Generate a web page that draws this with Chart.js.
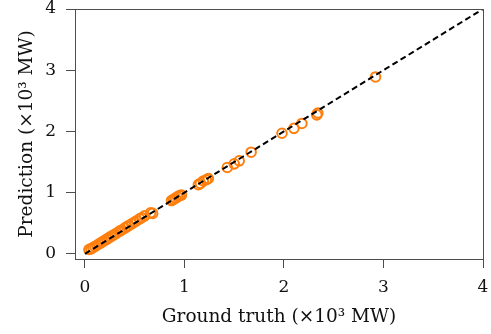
<!DOCTYPE html>
<html>
<head>
<meta charset="utf-8">
<script src="https://cdn.jsdelivr.net/npm/chart.js@4.4.1/dist/chart.umd.min.js"></script>
<style>
  html, body { margin: 0; padding: 0; background: #fff; }
  #wrap { width: 491px; height: 334px; }
</style>
</head>
<body>
<div id="wrap"><canvas id="chart" width="491" height="334"></canvas></div>
<script>
// values in 10^3 MW
var truth = [0.04, 0.06, 0.08, 0.10, 0.12, 0.14, 0.16, 0.18, 0.20, 0.22,
             0.24, 0.26, 0.28, 0.30, 0.32, 0.35, 0.37, 0.40, 0.42, 0.44,
             0.47, 0.50, 0.52, 0.55, 0.57, 0.60, 0.66, 0.68,
             0.87, 0.89, 0.91, 0.93, 0.95, 0.97,
             1.14, 1.16, 1.19, 1.22, 1.24,
             1.43, 1.50, 1.55, 1.67,
             1.98, 2.10, 2.18, 2.33, 2.34, 2.92];
var prediction = [0.07, 0.08, 0.10, 0.12, 0.14, 0.16, 0.18, 0.20, 0.22, 0.24,
                  0.26, 0.28, 0.30, 0.32, 0.34, 0.37, 0.39, 0.42, 0.44, 0.46,
                  0.49, 0.52, 0.54, 0.57, 0.59, 0.62, 0.67, 0.66,
                  0.87, 0.89, 0.91, 0.93, 0.95, 0.96,
                  1.13, 1.15, 1.19, 1.21, 1.23,
                  1.41, 1.47, 1.52, 1.66,
                  1.97, 2.05, 2.13, 2.27, 2.30, 2.89];
var identityLine = [0, 4];
var tickValues = [0, 1, 2, 3, 4];

var spineColor = "#4d4d4d";
var tickFont = { family: "'DejaVu Serif', serif", size: 17, lineHeight: 1.0 };
var titleFont = { family: "'DejaVu Serif', serif", size: 18.5, lineHeight: 1.0 };

var points = truth.map(function(t, i) { return { x: t, y: prediction[i] }; });
var diag = identityLine.map(function(v) { return { x: v, y: v }; });

var frame = {
  id: "frame",
  afterDraw: function(chart) {
    var a = chart.chartArea, ctx = chart.ctx;
    ctx.save();
    ctx.strokeStyle = spineColor;
    ctx.lineWidth = 1;
    ctx.strokeRect(a.left + 0.5, a.top + 0.5, a.right - a.left, a.bottom - a.top);
    ctx.restore();
  }
};

var setTicks = function(axis) {
  axis.ticks = tickValues.map(function(v) { return { value: v }; });
};

new Chart(document.getElementById("chart").getContext("2d"), {
  type: "scatter",
  data: {
    datasets: [{
      data: diag,
      type: "line",
      showLine: true,
      borderColor: "#000",
      borderWidth: 2,
      borderDash: [6, 3.5],
      pointRadius: 0,
      fill: false,
      order: 0
    }, {
      data: points,
      pointRadius: 4.8,
      pointBorderWidth: 2,
      borderColor: "#ff7f0e",
      backgroundColor: "rgba(0,0,0,0)",
      order: 1
    }]
  },
  plugins: [frame],
  options: {
    responsive: false,
    animation: false,
    layout: { padding: { top: 9, right: 8, left: 0, bottom: 0 } },
    plugins: { legend: { display: false }, tooltip: { enabled: false } },
    scales: {
      x: {
        type: "linear",
        min: -0.1,
        max: 4,
        afterBuildTicks: setTicks,
        afterFit: function(axis) { axis.height = 75; axis.paddingLeft = 0; axis.paddingRight = 0; },
        grid: { drawOnChartArea: false, drawTicks: true, tickLength: 9, color: spineColor },
        border: { color: spineColor },
        ticks: { color: "#111", font: tickFont, padding: 11, maxRotation: 0 },
        title: { display: true, text: "Ground truth (×10³ MW)", color: "#111", font: titleFont, padding: { top: 2, bottom: 8 } }
      },
      y: {
        type: "linear",
        min: -0.085,
        max: 4,
        afterBuildTicks: setTicks,
        afterFit: function(axis) { axis.width = 75; axis.paddingTop = 0; axis.paddingBottom = 0; },
        grid: { drawOnChartArea: false, drawTicks: true, tickLength: 9, color: spineColor },
        border: { color: spineColor },
        ticks: { color: "#111", font: tickFont, padding: 10 },
        title: { display: true, text: "Prediction (×10³ MW)", color: "#111", font: titleFont, padding: { bottom: 2, top: 18 } }
      }
    }
  }
});
</script>
</body>
</html>
